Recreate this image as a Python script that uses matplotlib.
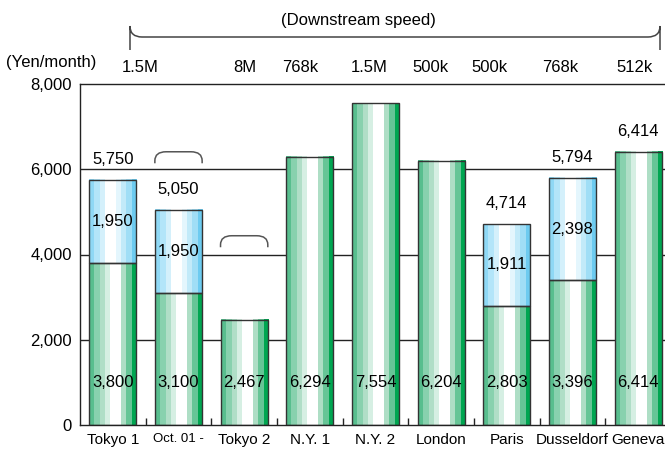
import matplotlib
matplotlib.use("Agg")
import matplotlib.pyplot as plt
import numpy as np
from matplotlib.path import Path
from matplotlib.patches import PathPatch, Rectangle
from matplotlib.colors import to_rgb
import matplotlib.transforms as mtransforms

plt.rcParams['font.family'] = ['Liberation Sans', 'DejaVu Sans']

# ---- data -------------------------------------------------------------
cities = ["Tokyo 1", "Oct. 01 -", "Tokyo 2", "N.Y. 1", "N.Y. 2",
          "London", "Paris", "Dusseldorf", "Geneva"]
base_fee = [3800, 3100, 2467, 6294, 7554, 6204, 2803, 3396, 6414]
line_fee = [1950, 1950, 0, 0, 0, 0, 1911, 2398, 0]
total_labels = ["5,750", "5,050", "", "", "", "", "4,714", "5,794", "6,414"]
speeds = ["1.5M", "", "8M", "768k", "1.5M", "500k", "500k", "768k", "512k"]
speed_shift = [0.41, 0, 0.01, -0.15, -0.09, -0.17, -0.26, -0.19, -0.05]
yticks = [0, 2000, 4000, 6000, 8000]

green_stripes = ["#58be8e", "#88d1ae", "#b0dec7", "#d6efe3", "#ffffff",
                 "#ffffff", "#aedec5", "#66c596", "#00a651"]
blue_stripes = ["#8fd8f5", "#b3e5f9", "#d4f0fb", "#ffffff", "#ffffff",
                "#e4f6fd", "#c2eaf9", "#a0def6", "#6dcbf0"]

FS = 12
W, H = 665, 458
fig = plt.figure(figsize=(W / 100, H / 100), dpi=100)
ax = fig.add_axes([80 / W, 33 / H, 591 / W, 341 / H])

x = np.arange(len(cities))
bw = 0.72
edge = "#333333"


def striped(patches, colors):
    img = np.array([[to_rgb(c) for c in colors]])
    for p in patches:
        if p.get_height() <= 0:
            continue
        x0, y0 = p.get_x(), p.get_y()
        ax.imshow(img, extent=(x0, x0 + p.get_width(), y0, y0 + p.get_height()),
                  aspect="auto", interpolation="nearest", zorder=2)
        ax.add_patch(Rectangle((x0, y0), p.get_width(), p.get_height(),
                               fill=False, edgecolor=edge, lw=1.0, zorder=3))


lower = ax.bar(x, base_fee, width=bw, color="none", edgecolor="none", zorder=2)
upper = ax.bar(x, line_fee, width=bw, bottom=base_fee, color="none",
               edgecolor="none", zorder=2)
striped(lower, green_stripes)
striped(upper, blue_stripes)
ax.set_xlim(-0.5, len(cities) - 0.5)
ax.set_ylim(0, 8000)

# grid lines and frame
for yv in yticks[1:-1]:
    ax.axhline(yv, color="#222222", lw=1.0, zorder=1)
for s in ["left", "bottom", "top"]:
    ax.spines[s].set_color("#222222")
    ax.spines[s].set_linewidth(1.0)
ax.spines["right"].set_visible(False)

ax.set_yticks(yticks)
ax.set_yticklabels([f"{v:,}" for v in yticks], fontsize=FS)
ax.tick_params(axis="y", length=0, pad=6)

ax.set_xticks(x)
ax.set_xticklabels(cities, fontsize=11)
ax.tick_params(axis="x", which="major", length=0, pad=6)
ax.get_xticklabels()[1].set_fontsize(9.5)
ax.get_xticklabels()[1].set_family(["Liberation Sans Narrow", "Liberation Sans"])
ax.set_xticks(x[:-1] + 0.5, minor=True)
ax.tick_params(axis="x", which="minor", direction="in", length=5,
               width=1.0, color="#222222")

# value labels
for i in range(len(cities)):
    ax.text(x[i], 1000, f"{base_fee[i]:,}", ha="center", va="center",
            fontsize=FS, zorder=5)
    if line_fee[i] > 0:
        ax.text(x[i], base_fee[i] + line_fee[i] / 2, f"{line_fee[i]:,}",
                ha="center", va="center", fontsize=FS, zorder=5)
    if total_labels[i]:
        top = base_fee[i] + line_fee[i]
        ax.annotate(total_labels[i], (x[i], top), xytext=(0, 14.5),
                    textcoords="offset points", ha="center", va="center",
                    fontsize=FS, zorder=5)


def bracket(trans, x0, x1, yb, yt, rx, ry, color="#555555", lw=1.1, on_axes=False):
    verts = [(x0, yb), (x0, yt - ry), (x0, yt), (x0 + rx, yt),
             (x1 - rx, yt), (x1, yt), (x1, yt - ry), (x1, yb)]
    codes = [Path.MOVETO, Path.LINETO, Path.CURVE3, Path.CURVE3,
             Path.LINETO, Path.CURVE3, Path.CURVE3, Path.LINETO]
    patch = PathPatch(Path(verts, codes), fill=False, edgecolor=color, lw=lw,
                      transform=trans, clip_on=False, zorder=6)
    if on_axes:
        ax.add_patch(patch)
    else:
        fig.add_artist(patch)


# small brackets above Oct. 01 and Tokyo 2
bracket(ax.transData, 1 - bw / 2, 1 + bw / 2, 6140, 6410, 0.17, 210, on_axes=True)
bracket(ax.transData, 2 - bw / 2, 2 + bw / 2, 4170, 4440, 0.17, 210, on_axes=True)

# pixel-based transform for the header annotations (origin at top-left)
pix = mtransforms.Affine2D().scale(1 / W, -1 / H).translate(0, 1) + fig.transFigure
bracket(pix, 130, 660, 50, 37, 12, 11, color="#444444")
fig.text(358 / W, 1 - 21 / H, "(Downstream speed)", ha="center", va="center",
         fontsize=FS)
fig.text(51 / W, 1 - 63 / H, "(Yen/month)", ha="center", va="center",
         fontsize=FS)
for i, sp in enumerate(speeds):
    if sp:
        px = 80 + 65.67 * (x[i] + speed_shift[i] + 0.5)
        fig.text(px / W, 1 - 67 / H, sp, ha="center", va="center", fontsize=FS)

fig.savefig("out.png", dpi=100)
